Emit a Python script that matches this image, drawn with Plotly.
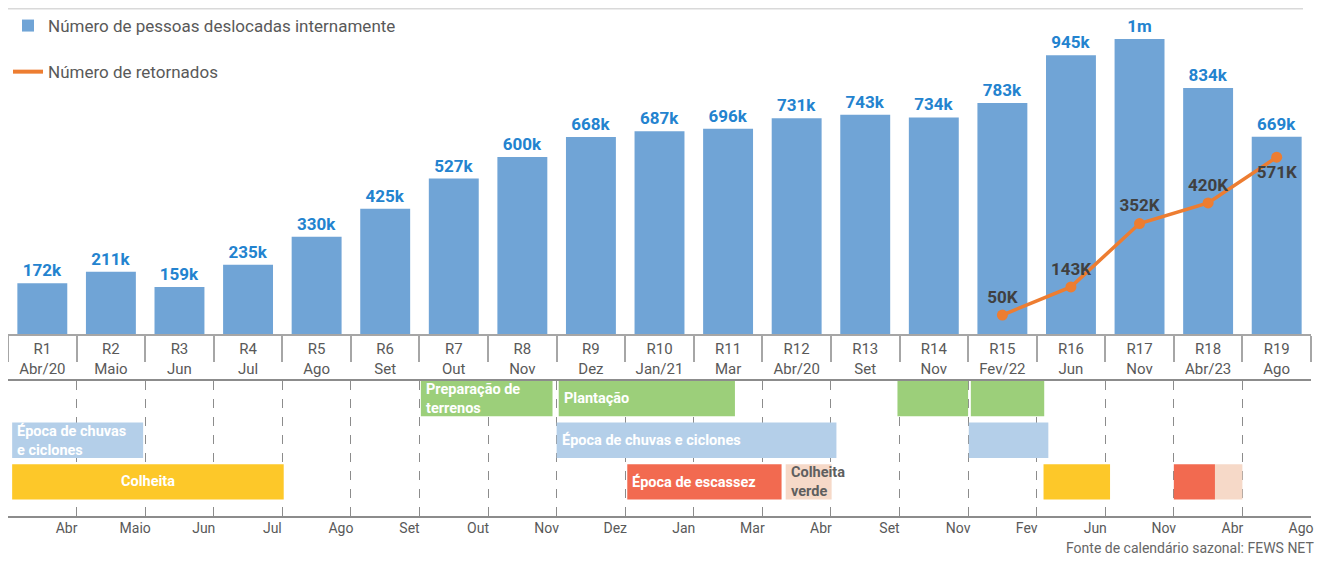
import plotly.graph_objects as go

# ---------------- data ----------------
rounds = [f"R{i}" for i in range(1, 20)]
round_dates = ["Abr/20", "Maio", "Jun", "Jul", "Ago", "Set", "Out", "Nov", "Dez",
               "Jan/21", "Mar", "Abr/20", "Set", "Nov", "Fev/22", "Jun", "Nov",
               "Abr/23", "Ago"]
idp_k = [172, 211, 159, 235, 330, 425, 527, 600, 668, 687, 696, 731, 743, 734,
         783, 945, 1000, 834, 669]
returnee_rounds = ["R15", "R16", "R17", "R18", "R19"]
returnees_k = [50, 143, 352, 420, 571]

calendar_months = ["Abr", "Maio", "Jun", "Jul", "Ago", "Set", "Out", "Nov", "Dez",
                   "Jan", "Mar", "Abr", "Set", "Nov", "Fev", "Jun", "Nov", "Abr", "Ago"]

# seasonal calendar (start / end measured in survey-round units)
season_labels = ["Preparação de<br>terrenos", "Plantação", "", "",
                 "Época de chuvas<br>e ciclones", "Época de chuvas e ciclones", "",
                 "Colheita", "",
                 "Época de escassez", "",
                 "Colheita<br>verde", ""]
season_kind = ["plant", "plant", "plant", "plant",
               "rain", "rain", "rain",
               "harvest", "harvest",
               "scarcity", "scarcity",
               "green", "green"]
season_start = [5.52, 7.53, 12.47, 13.54, -0.44, 7.50, 13.51, -0.44, 14.60, 8.53, 16.50, 10.84, 17.10]
season_end = [7.44, 10.10, 13.50, 14.61, 1.47, 11.58, 14.67, 3.52, 15.57, 10.78, 17.10, 11.51, 17.50]

# ---------------- styles ----------------
kind_style = {
    "plant":    dict(row=2, color="#9CCF7A", text="#FFFFFF", anchor="left"),
    "rain":     dict(row=1, color="#B4CFE9", text="#FFFFFF", anchor="left"),
    "harvest":  dict(row=0, color="#FDC829", text="#FFFFFF", anchor="center"),
    "scarcity": dict(row=0, color="#F26A50", text="#FFFFFF", anchor="left"),
    "green":    dict(row=0, color="#F6D9C8", text="#5F5F5F", anchor="left"),
}
BAR_BLUE = "#70A4D6"
LABEL_BLUE = "#2383CF"
ORANGE = "#ED7D31"
GRAY_TXT = "#595959"
FONT = "Roboto"

# the page places the figure 8 px from the window's edges; keep it inside the window
PAGE_OFF = 8
W, H = 1328 - 2 * PAGE_OFF, 565 - 2 * PAGE_OFF


def px(x):  # window x pixel -> paper fraction
    return min(max((x - PAGE_OFF) / W, 0.0), 1.0)


def py(y):  # window y pixel -> paper fraction
    return min(max(1 - (y - PAGE_OFF) / H, 0.0), 1.0)


x_positions = list(range(len(rounds)))
x_range = [-0.5005, len(rounds) - 0.4995]
x_dom = [px(8), px(1313)]


def fmt_k(v):
    return "1m" if v >= 1000 else f"{v}k"


fig = go.Figure()

# displaced people bars
fig.add_trace(go.Bar(
    x=x_positions, y=idp_k, width=0.728,
    marker=dict(color=BAR_BLUE, line=dict(width=0)),
    text=[fmt_k(v) for v in idp_k], textposition="outside", cliponaxis=False,
    textfont=dict(family=FONT, size=17, color=LABEL_BLUE, weight="bold"),
    name="Número de pessoas deslocadas internamente",
    legendgroup="a", xaxis="x", yaxis="y",
))

# returnees line
ret_x = [rounds.index(r) for r in returnee_rounds]
fig.add_trace(go.Scatter(
    x=ret_x, y=returnees_k, mode="lines+markers+text",
    line=dict(color=ORANGE, width=3.5),
    marker=dict(color=ORANGE, size=11),
    text=[f"{v}K" for v in returnees_k],
    textposition=["top center"] * 4 + ["bottom center"],
    textfont=dict(family=FONT, size=17, color="#404040", weight="bold"),
    showlegend=False, cliponaxis=False,
    xaxis="x", yaxis="y2",
))
# legend entry (line only, as in the reference legend)
fig.add_trace(go.Scatter(
    x=[None], y=[None], mode="lines", line=dict(color=ORANGE, width=4),
    name="Número de retornados", legendgroup="b", xaxis="x", yaxis="y2",
))

# seasonal calendar
annotations = []
for kind, st in kind_style.items():
    idx = [i for i, k in enumerate(season_kind) if k == kind]
    fig.add_trace(go.Bar(
        orientation="h",
        y=[st["row"]] * len(idx),
        base=[season_start[i] for i in idx],
        x=[season_end[i] - season_start[i] for i in idx],
        width=0.85,
        marker=dict(color=st["color"], line=dict(width=0)),
        showlegend=False, hoverinfo="skip",
        xaxis="x2", yaxis="y3",
    ))
    for i in idx:
        if not season_labels[i]:
            continue
        if st["anchor"] == "center":
            ax, xs = (season_start[i] + season_end[i]) / 2, 0
        else:
            ax, xs = season_start[i], 3
        annotations.append(dict(
            text=season_labels[i], x=ax, y=st["row"], xref="x2", yref="y3",
            xanchor=st["anchor"], yanchor="middle", xshift=xs, align="left",
            showarrow=False,
            font=dict(family=FONT, size=14.5, color=st["text"], weight="bold"),
        ))

annotations.append(dict(text="Fonte de calendário sazonal: FEWS NET",
                        xref="paper", yref="paper", x=0.998, y=0.0,
                        xanchor="right", yanchor="bottom", showarrow=False,
                        borderpad=0,
                        font=dict(family=FONT, size=14, color="#666666")))

# upper panel plot area: window y 334 (baseline) up to the figure top (window y 8)
top_px = 334 - PAGE_OFF
fig.update_layout(
    width=W, height=H,
    margin=dict(l=0, r=0, t=0, b=0),
    paper_bgcolor="white", plot_bgcolor="white",
    barmode="overlay",
    font=dict(family=FONT, color=GRAY_TXT),
    showlegend=True,
    legend=dict(x=px(5), y=1.0, xanchor="left", yanchor="top",
                font=dict(family=FONT, size=17, color=GRAY_TXT),
                traceorder="grouped", tracegroupgap=21,
                bgcolor="rgba(0,0,0,0)", itemwidth=30),
    xaxis=dict(domain=x_dom, range=x_range, anchor="y",
               tickmode="array", tickvals=x_positions,
               ticktext=[f"{r}<br>{d}" for r, d in zip(rounds, round_dates)],
               tickfont=dict(family=FONT, size=15, color=GRAY_TXT),
               ticks="", showgrid=False, zeroline=False,
               showline=True, linecolor="#A6A6A6", linewidth=2,
               minor=dict(tick0=-0.5, dtick=1, ticks="outside", ticklen=26,
                          tickcolor="#A6A6A6", tickwidth=2, showgrid=False)),
    yaxis=dict(domain=[py(334), 1.0], range=[0, top_px / 0.295],
               visible=False, fixedrange=True),
    yaxis2=dict(overlaying="y", range=[-12.5, (top_px - 3.8) / 0.303], visible=False),
    xaxis2=dict(domain=x_dom, range=x_range, anchor="y3",
                tickmode="array", tickvals=[k - 0.5 for k in range(len(rounds) + 1)],
                ticktext=[""] + calendar_months,
                tickfont=dict(family=FONT, size=14, color=GRAY_TXT),
                ticklabelshift=-10, ticklabelstandoff=-2,
                ticks="", showgrid=True, gridcolor="#8C8C8C", griddash="dash",
                gridwidth=1, zeroline=False,
                showline=True, mirror=True, linecolor="#8C8C8C", linewidth=2),
    yaxis3=dict(domain=[py(516), py(381)], range=[-0.82, 2.42],
                anchor="x2", visible=False),
    shapes=[dict(type="line", xref="paper", yref="paper",
                 x0=0, x1=px(1305), y0=0.999, y1=0.999,
                 line=dict(color="#D9D9D9", width=2))],
    annotations=annotations,
)

fig.write_html("out.html")
